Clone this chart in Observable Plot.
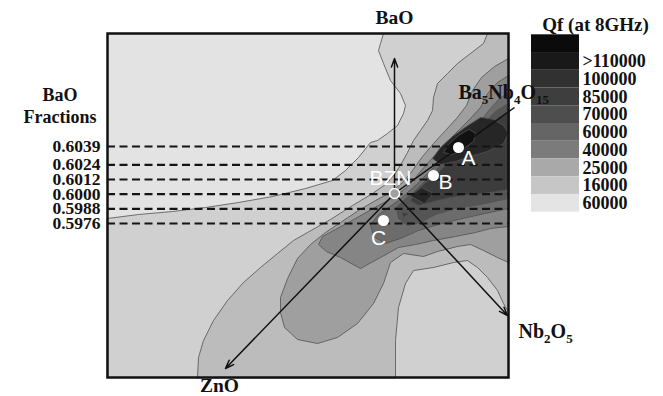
<!DOCTYPE html>
<html>
<head>
<meta charset="utf-8">
<script src="https://cdn.jsdelivr.net/npm/d3@7"></script>
<script src="https://cdn.jsdelivr.net/npm/@observablehq/plot@0.6"></script>
<style>
  html, body { margin: 0; padding: 0; background: #fff; }
  #chart { width: 663px; height: 396px; overflow: hidden; }
</style>
</head>
<body>
<div id="chart"></div>
<script>
// ---- Tick labels / legend ----
const baoFractionLabels = ["0.6039", "0.6024", "0.6012", "0.6000", "0.5988", "0.5976"];
const legendTitle = "Qf (at 8GHz)";
const legendLabels = ["", ">110000", "100000", "85000", "70000", "60000", "40000", "25000", "16000", "60000"];
const legendColors = ["#0b0b0b", "#191919", "#313131", "#3e3e3e", "#4e4e4e", "#656565", "#7b7b7b", "#a9a9a9", "#c6c6c6", "#e4e4e4"];

// ---- Qf contour level fills (lowest -> highest) ----
const levelColors = ["#e3e3e3", "#d0d0d0", "#bcbcbc", "#9f9f9f", "#858585", "#6c6c6c", "#555555", "#3c3c3c", "#262626", "#111111"];

// ---- Contour outlines in composition-plane units (x: 0..401, y: 0..344) ----
const qfContour1 = [[0,159],[31,163],[65,166],[98,170],[131,175],[165,181],[198,189],[225,197],[238,207],[251,220],[263,235],[270,237],[280,244],[290,252],[296,264],[298,272],[293,284],[283,297],[276,314],[271,327],[273,334],[276,344],[401,344],[401,0],[0,0]];
const qfContour2 = [[90,0],[91,20],[96,37],[106,57],[120,77],[136,95],[153,110],[170,124],[186,137],[200,145],[223,158],[245,172],[265,184],[278,193],[287,203],[294,214],[300,225],[306,237],[313,247],[320,257],[325,267],[326,280],[330,294],[340,304],[350,314],[363,324],[376,334],[380,344],[401,344],[401,65],[396,74],[390,87],[380,100],[370,110],[360,117],[346,115],[326,110],[306,107],[298,94],[291,70],[288,37],[288,0]];
const qfContour3 = [[401,319],[387,311],[374,300],[365,287],[359,272],[349,259],[338,247],[326,234],[315,221],[305,207],[295,195],[283,185],[268,177],[251,167],[233,155],[218,145],[203,133],[190,119],[180,99],[173,80],[173,65],[177,50],[190,38],[210,34],[230,40],[250,54],[266,74],[276,94],[283,115],[296,124],[316,121],[330,126],[350,131],[363,133],[376,127],[390,120],[401,115]];
const qfContour4 = [[401,302],[390,295],[380,284],[373,270],[363,259],[352,248],[341,237],[330,225],[319,213],[308,200],[298,189],[286,180],[271,172],[255,163],[241,155],[228,148],[215,141],[211,133],[219,126],[233,120],[253,109],[273,120],[291,130],[308,133],[326,137],[348,141],[368,145],[383,149],[401,151]];
const qfContour5 = [[401,285],[392,279],[383,269],[375,259],[365,249],[355,239],[344,229],[333,217],[321,205],[310,194],[300,185],[291,177],[281,170],[271,163],[263,153],[266,141],[278,134],[293,139],[311,147],[331,153],[351,158],[373,163],[401,169]];
const qfContour6 = [[401,274],[389,267],[379,257],[369,247],[359,238],[349,228],[338,217],[327,206],[316,195],[306,185],[296,177],[289,170],[291,159],[300,152],[313,155],[328,163],[348,169],[373,173],[401,179]];
const qfContour7 = [[401,264],[390,258],[380,250],[370,242],[360,234],[350,224],[339,213],[328,203],[317,194],[308,185],[303,177],[311,172],[326,176],[343,180],[363,183],[383,185],[401,188]];
const qfContour7b = [[295,165],[301,164],[296,160]];
const qfContour8 = [[373,260],[359,251],[345,241],[333,230],[325,219],[333,213],[348,216],[363,221],[380,226],[396,234],[401,244],[396,252],[386,258]];
const qfContour8b = [[303,182],[314,190],[326,184],[317,174]];
const qfContour9 = [[361,248],[351,242],[341,233],[336,225],[345,223],[355,228],[366,236],[368,244]];

const contourLayers = [
  {pts: qfContour1, level: 1}, {pts: qfContour2, level: 2}, {pts: qfContour3, level: 3},
  {pts: qfContour4, level: 4}, {pts: qfContour5, level: 5}, {pts: qfContour6, level: 6},
  {pts: qfContour7, level: 7}, {pts: qfContour7b, level: 7}, {pts: qfContour8, level: 8},
  {pts: qfContour8b, level: 8}, {pts: qfContour9, level: 9}
];

// ---- Composition vectors, samples ----
const bznOrigin = {x: 287, y: 184};
const arrowEnds = [{name: "BaO", x: 287, y: 319}, {name: "Nb2O5", x: 400, y: 62}, {name: "ZnO", x: 118, y: 9}];
const ba5Nb4O15End = {x: 407, y: 270};
const samplePoints = [{name: "A", x: 351, y: 230}, {name: "B", x: 326, y: 202}, {name: "C", x: 276, y: 157}];
const sampleLabels = [{text: "A", x: 361, y: 219}, {text: "B", x: 338, y: 195}, {text: "C", x: 271, y: 139}, {text: "BZN", x: 283, y: 199}];
const axisLabelsCentered = [
  {text: "BaO", x: 287, y: 360},
  {text: "ZnO", x: 112, y: -8.5}
];
const axisLabelsLeft = [
  {text: "Ba_5Nb_4O_15", x: 351, y: 285},
  {text: "Nb_2O_5", x: 411, y: 46}
];

// BaO fraction -> vertical composition coordinate (linear between outer dashed lines)
const fTop = +baoFractionLabels[0], fBot = +baoFractionLabels[baoFractionLabels.length - 1];
const yTop = 231, yBot = 154;
const fracToY = f => yBot + (f - fBot) / (fTop - fBot) * (yTop - yBot);

// legend geometry (in the same units, to the right of the frame)
const legX1 = 424, legX2 = 472, legTop = 342.7, legRow = 17.74;
const legendRows = legendColors.map((c, i) => ({color: c, label: legendLabels[i], y1: legTop - legRow * i, y2: legTop - legRow * (i + 1)}));

const serif = "Liberation Serif, Times New Roman, serif";
const sans = "Liberation Sans, Arial, sans-serif";

const marks = [
  Plot.frame({fill: levelColors[0]}),
  ...contourLayers.map(l => Plot.line(l.pts, {
    x: d => d[0], y: d => d[1], curve: "linear-closed",
    fill: levelColors[l.level], stroke: "#505050", strokeWidth: 0.8
  })),
  Plot.ruleY(baoFractionLabels, {y: d => fracToY(+d), stroke: "#141414", strokeWidth: 2.2, strokeDasharray: "8,4.5"}),
  Plot.text(baoFractionLabels, {x: 0, y: d => fracToY(+d), text: d => d, dx: -7, textAnchor: "end",
    fontFamily: serif, fontWeight: "bold", fontSize: 17.5, fill: "#111"}),
  Plot.text(["BaO\nFractions"], {x: -47.5, y: 272.5, text: d => d, lineHeight: 1.2,
    fontFamily: serif, fontWeight: "bold", fontSize: 18, fill: "#111"}),
  Plot.arrow(arrowEnds, {x1: () => bznOrigin.x, y1: () => bznOrigin.y, x2: "x", y2: "y",
    stroke: "#111", strokeWidth: 1.5, headLength: 9, headAngle: 40}),
  Plot.link([ba5Nb4O15End], {x1: () => bznOrigin.x, y1: () => bznOrigin.y, x2: "x", y2: "y", stroke: "#111", strokeWidth: 1.5}),
  Plot.dot(samplePoints, {x: "x", y: "y", r: 5.5, fill: "white", stroke: "none"}),
  Plot.dot([bznOrigin], {x: "x", y: "y", r: 5, fill: "#a0a0a0", stroke: "white", strokeWidth: 1.6}),
  Plot.text(sampleLabels, {x: "x", y: "y", text: "text", fill: "white", fontFamily: sans, fontSize: 21}),
  Plot.text(axisLabelsCentered, {x: "x", y: "y", text: "text", textAnchor: "middle",
    fontFamily: serif, fontWeight: "bold", fontSize: 19.5, fill: "#111"}),
  Plot.frame({stroke: "#111", strokeWidth: 2.5}),
  // legend
  Plot.rect(legendRows, {x1: () => legX1, x2: () => legX2, y1: "y1", y2: "y2", fill: "color"}),
  Plot.text(legendRows.filter(d => d.label), {x: () => legX2, y: d => (d.y1 + d.y2) / 2, text: "label", dx: 3, textAnchor: "start",
    fontFamily: serif, fontWeight: "bold", fontSize: 18, fill: "#111"}),
  Plot.text([legendTitle], {x: 488, y: 353, text: d => d, fontFamily: serif, fontWeight: "bold", fontSize: 19, fill: "#111"}),
  Plot.text(axisLabelsLeft, {x: "x", y: "y", text: "text", textAnchor: "start",
    fontFamily: serif, fontWeight: "bold", fontSize: 20, fill: "#111"})
];

const chart = Plot.plot({
  width: 663, height: 396,
  marginLeft: 107, marginRight: 155, marginTop: 33, marginBottom: 19,
  x: {domain: [0, 401], axis: null},
  y: {domain: [0, 344], axis: null},
  color: {type: "identity"},
  style: {background: "white", overflow: "visible"},
  marks
});

// chemical-formula subscripts: "_n" -> subscript tspan
d3.select(chart).selectAll("text").each(function () {
  const s = this.textContent;
  if (!s.includes("_") || this.querySelector("tspan")) return;
  this.textContent = "";
  const parts = s.split(/_(\d+)/);
  let shifted = false;
  parts.forEach((p, i) => {
    if (!p) return;
    const t = document.createElementNS("http://www.w3.org/2000/svg", "tspan");
    t.textContent = p;
    if (i % 2 === 1) { t.setAttribute("font-size", "13"); if (!shifted) { t.setAttribute("dy", "5"); shifted = true; } }
    else if (shifted) { t.setAttribute("dy", "-5"); shifted = false; }
    this.appendChild(t);
  });
});

document.getElementById("chart").appendChild(chart);
</script>
</body>
</html>
